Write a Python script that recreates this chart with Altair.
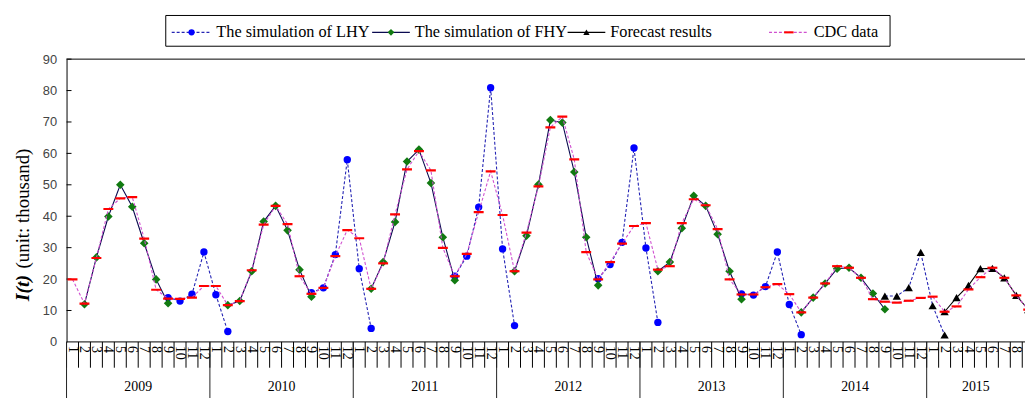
import altair as alt
import pandas as pd

# ---------------- data ----------------
years = ["2009", "2010", "2011", "2012", "2013", "2014", "2015"]
month_numbers = list(range(1, 13))
x_max = 80.23  # visible months (Jan 2009 .. part of Sep 2015)

cdc_2009 = [19.9, 12.2, 26.7, 42.3, 45.7, 46.1, 32.9, 16.6, 13.8, 13.7, 14.1, 17.8]
cdc_2010 = [17.8, 11.7, 13.0, 22.8, 37.3, 43.3, 37.5, 20.9, 15.3, 17.2, 27.3, 35.6]
cdc_2011 = [33.0, 16.9, 25.0, 40.6, 54.9, 60.7, 54.6, 29.9, 20.9, 28.0, 41.3, 54.3]
cdc_2012 = [40.4, 22.5, 34.8, 49.5, 68.3, 71.7, 58.1, 28.6, 19.9, 25.4, 31.3, 36.9]
cdc_2013 = [37.8, 23.0, 24.1, 37.8, 45.4, 43.5, 35.9, 19.9, 15.1, 15.1, 17.4, 18.4]
cdc_2014 = [15.2, 9.4, 14.1, 18.6, 24.1, 23.6, 20.4, 13.6, 12.8, 12.5, 13.1, 14.0]
cdc_2015 = [14.4, 9.6, 11.3, 16.7, 20.6, 23.6, 20.4, 14.8, 10.3]

# FHY simulation: Feb..Sep of each year
fhy_2009 = [12.0, 26.9, 39.9, 50.0, 43.0, 31.4, 19.9, 12.3]
fhy_2010 = [11.7, 13.0, 22.5, 38.3, 43.3, 35.5, 23.0, 14.4]
fhy_2011 = [16.9, 25.4, 38.2, 57.4, 61.2, 50.6, 33.3, 19.6]
fhy_2012 = [22.5, 33.8, 50.1, 70.6, 69.8, 54.1, 33.3, 18.0]
fhy_2013 = [22.5, 25.4, 36.2, 46.5, 43.3, 34.3, 22.5, 13.6]
fhy_2014 = [9.4, 14.1, 18.6, 23.3, 23.6, 20.4, 15.4, 10.4]

# LHY simulation: Sep..Feb of each season
lhy_2009 = [14.1, 13.0, 15.2, 28.6, 15.0, 3.3]
lhy_2010 = [15.7, 17.2, 27.8, 58.0, 23.3, 4.3]
lhy_2011 = [20.9, 27.3, 42.9, 80.9, 29.6, 5.2]
lhy_2012 = [20.1, 24.6, 31.7, 61.7, 29.9, 6.2]
lhy_2013 = [15.3, 14.9, 17.6, 28.6, 11.9, 2.3]

# Forecast results
forecast_lhy_2014 = [14.6, 14.6, 17.3, 28.5, 11.5, 2.2]          # Sep 2014 .. Feb 2015
forecast_fhy_2015 = [9.6, 14.1, 18.0, 23.3, 23.4, 20.4, 14.8, 10.3]  # Feb 2015 .. Sep 2015

legend_labels = ["The simulation of LHY", "The simulation of FHY", "Forecast results", "CDC data"]

# ---------------- tables ----------------
cdc_all = cdc_2009 + cdc_2010 + cdc_2011 + cdc_2012 + cdc_2013 + cdc_2014 + cdc_2015
cdc_df = pd.DataFrame({"x": [i + 0.5 for i in range(len(cdc_all))], "v": cdc_all})


def segments(blocks, start_month):
    rows = []
    for k, vals in enumerate(blocks):
        start = 12 * k + start_month
        for j, v in enumerate(vals):
            rows.append({"x": start + j + 0.5, "v": v, "g": k})
    return pd.DataFrame(rows)


fhy_df = segments([fhy_2009, fhy_2010, fhy_2011, fhy_2012, fhy_2013, fhy_2014], 1)
lhy_df = segments([lhy_2009, lhy_2010, lhy_2011, lhy_2012, lhy_2013], 8)
fc_lhy_df = pd.DataFrame({"x": [68 + j + 0.5 for j in range(len(forecast_lhy_2014))], "v": forecast_lhy_2014})
fc_fhy_df = pd.DataFrame({"x": [73 + j + 0.5 for j in range(len(forecast_fhy_2015))], "v": forecast_fhy_2015})

n_vis = 80
month_df = pd.DataFrame({"x": [i + 0.5 for i in range(n_vis)],
                         "lab": [str(month_numbers[i % 12]) for i in range(n_vis)]})
msep_df = pd.DataFrame({"b": list(range(0, n_vis + 1))})
ysep_df = pd.DataFrame({"b": [12 * k for k in range(len(years))]})
year_df = pd.DataFrame({"x": [(12 * k + min(12 * k + 12, x_max)) / 2 for k in range(len(years))],
                        "lab": years})
ytick_df = pd.DataFrame({"t": list(range(10, 91, 10))})
one = pd.DataFrame({"a": [0]})

W, H = 966, 285
SERIF = "Liberation Serif"

xs = alt.Scale(domain=[0, x_max], nice=False, zero=False)
ys = alt.Scale(domain=[0, 90], nice=False, zero=True)
yaxis = alt.Axis(values=list(range(0, 91, 10)), ticks=False, grid=False, title=None,
                 labelFont="Liberation Sans", labelFontSize=13, labelColor="#444",
                 labelPadding=10, domainColor="black", domainWidth=1)
X = alt.X("x:Q", scale=xs, axis=None)
Y = alt.Y("v:Q", scale=ys, axis=yaxis)

dash_shape = "M-1,-0.22L1,-0.22L1,0.22L-1,0.22Z"

# series lines
lhy_line = alt.Chart(lhy_df).mark_line(color="#2424b4", strokeDash=[3, 2], strokeWidth=1.1, clip=True).encode(x=X, y=Y, detail="g:N")
fhy_line = alt.Chart(fhy_df).mark_line(color="#0a0a50", strokeWidth=1.1, clip=True).encode(x=X, y=Y, detail="g:N")
fc_lhy_line = alt.Chart(fc_lhy_df).mark_line(color="#2424b4", strokeDash=[3, 2], strokeWidth=1.1, clip=True).encode(x=X, y=Y)
fc_fhy_line = alt.Chart(fc_fhy_df).mark_line(color="black", strokeWidth=1.1, clip=True).encode(x=X, y=Y)
cdc_line = alt.Chart(cdc_df).mark_line(color="#d050d0", strokeDash=[3, 2], strokeWidth=1.1, clip=True).encode(x=X, y=Y)

# markers
lhy_pts = alt.Chart(lhy_df).mark_point(shape="circle", filled=True, color="#0000ff", size=55, opacity=1, clip=True).encode(x=X, y=Y)
fhy_pts = alt.Chart(fhy_df).mark_point(shape="diamond", filled=True, color="#117a11", size=75, opacity=1, clip=True).encode(x=X, y=Y)
fc_pts1 = alt.Chart(fc_lhy_df).mark_point(shape="triangle-up", filled=True, color="black", size=70, opacity=1, clip=True).encode(x=X, y=Y)
fc_pts2 = alt.Chart(fc_fhy_df).mark_point(shape="triangle-up", filled=True, color="black", size=70, opacity=1, clip=True).encode(x=X, y=Y)
cdc_pts = alt.Chart(cdc_df).mark_point(shape=dash_shape, filled=True, color="#ff0000", size=100, opacity=1, clip=True).encode(x=X, y=Y)

# frame and custom category axis
top_border = alt.Chart(one).mark_rule(color="black", strokeWidth=1).encode(x=alt.value(0), x2=alt.value(W), y=alt.value(0))
bottom_axis = alt.Chart(one).mark_rule(color="black", strokeWidth=1).encode(x=alt.value(0), x2=alt.value(W), y=alt.value(H))
yticks = alt.Chart(ytick_df).mark_rule(color="black", strokeWidth=1).encode(
    y=alt.Y("t:Q", scale=ys, axis=yaxis), x=alt.value(0), x2=alt.value(5))
msep = alt.Chart(msep_df).mark_rule(color="black", strokeWidth=1).encode(
    x=alt.X("b:Q", scale=xs, axis=None), y=alt.value(H), y2=alt.value(H + 26))
ysep = alt.Chart(ysep_df).mark_rule(color="#222", strokeWidth=1).encode(
    x=alt.X("b:Q", scale=xs, axis=None), y=alt.value(H), y2=alt.value(H + 60))
mlabels = alt.Chart(month_df).mark_text(font=SERIF, fontSize=14, angle=90, align="left", baseline="middle", color="black").encode(
    x=X, y=alt.value(H + 4), text="lab:N")
ylabels = alt.Chart(year_df).mark_text(font=SERIF, fontSize=14, align="center", baseline="middle", color="black").encode(
    x=X, y=alt.value(H + 45), text="lab:N")

# y title (mixed style)
ytitle1 = alt.Chart(one).mark_text(text="I(t)", font=SERIF, fontSize=20, fontWeight="bold", fontStyle="italic",
                                    angle=270, align="left", baseline="middle").encode(x=alt.value(-44), y=alt.value(244))
ytitle2 = alt.Chart(one).mark_text(text="(unit: thousand)", font=SERIF, fontSize=19,
                                    angle=270, align="left", baseline="middle").encode(x=alt.value(-44), y=alt.value(211))

# legend
ly = -27
legend_box = alt.Chart(one).mark_rect(fill="white", stroke="black", strokeWidth=1).encode(
    x=alt.value(100), x2=alt.value(830), y=alt.value(-44), y2=alt.value(-13))
leg_text_df = pd.DataFrame({"lab": legend_labels, "px": [151, 351, 548, 753]})
leg_text = alt.Chart(leg_text_df).mark_text(font=SERIF, fontSize=16.4, align="left", baseline="middle", color="black").encode(
    x=alt.X("px:Q", scale=None), y=alt.value(ly), text="lab:N")
leg_l1 = alt.Chart(one).mark_rule(color="#2424b4", strokeDash=[3, 2], strokeWidth=1.1).encode(x=alt.value(106), x2=alt.value(146), y=alt.value(ly))
leg_p1 = alt.Chart(one).mark_point(shape="circle", filled=True, color="#0000ff", size=40, opacity=1).encode(x=alt.value(126), y=alt.value(ly))
leg_l2 = alt.Chart(one).mark_rule(color="#0a0a50", strokeWidth=1.1).encode(x=alt.value(308), x2=alt.value(346), y=alt.value(ly))
leg_p2 = alt.Chart(one).mark_point(shape="diamond", filled=True, color="#117a11", size=45, opacity=1).encode(x=alt.value(327), y=alt.value(ly))
leg_l3 = alt.Chart(one).mark_rule(color="black", strokeWidth=1.1).encode(x=alt.value(505), x2=alt.value(543), y=alt.value(ly))
leg_p3 = alt.Chart(one).mark_point(shape="triangle-up", filled=True, color="black", size=40, opacity=1).encode(x=alt.value(524), y=alt.value(ly))
leg_l4 = alt.Chart(one).mark_rule(color="#d050d0", strokeDash=[3, 2], strokeWidth=1.1).encode(x=alt.value(708), x2=alt.value(748), y=alt.value(ly))
leg_p4 = alt.Chart(one).mark_point(shape=dash_shape, filled=True, color="#ff0000", size=90, opacity=1).encode(x=alt.value(728), y=alt.value(ly))

chart = alt.layer(
    top_border, bottom_axis, yticks, msep, ysep, mlabels, ylabels, ytitle1, ytitle2,
    lhy_line, lhy_pts, fhy_line, fhy_pts, fc_lhy_line, fc_fhy_line, fc_pts1, fc_pts2, cdc_line, cdc_pts,
    legend_box, leg_text, leg_l1, leg_p1, leg_l2, leg_p2, leg_l3, leg_p3, leg_l4, leg_p4,
).properties(
    width=W, height=H,
    autosize=alt.AutoSizeParams(type="none"),
    padding={"left": 59, "top": 50, "right": 0, "bottom": 55},
    background="white",
).configure_view(stroke=None)

chart.save("out.html", embed_options={"renderer": "svg", "actions": False})
